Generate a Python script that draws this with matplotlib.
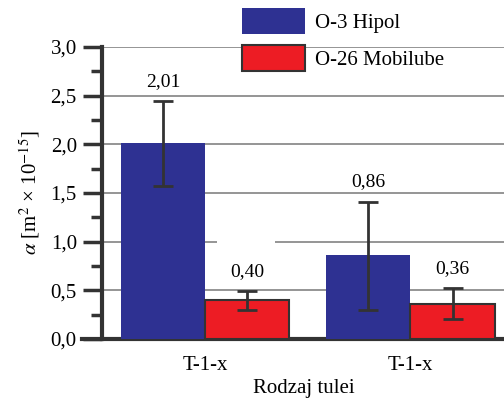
import numpy as np
import matplotlib
matplotlib.use('Agg')
import matplotlib.pyplot as plt
from matplotlib.ticker import MultipleLocator, FuncFormatter

plt.rcParams['font.family'] = ['Liberation Serif', 'DejaVu Serif']
plt.rcParams['mathtext.fontset'] = 'stix'

# dane
groups = ['T-1-x', 'T-1-x']
series = ['O-3 Hipol', 'O-26 Mobilube']
hipol = [2.01, 0.86]
hipol_lo = [1.57, 0.30]
hipol_hi = [2.44, 1.41]
mobil = [0.40, 0.36]
mobil_lo = [0.30, 0.20]
mobil_hi = [0.49, 0.52]

blue = '#2e3192'
red = '#ed1c24'
dark = '#333333'

fig = plt.figure(figsize=(5.04, 4.01), dpi=100)
ax = fig.add_axes([0.202, 0.155, 0.80, 0.728])

x = np.arange(len(groups))
w = 0.41

def errs(v, lo, hi):
    v = np.array(v)
    return [v - np.array(lo), np.array(hi) - v]

b1 = ax.bar(x - w / 2, hipol, w, color=blue, zorder=3, label=series[0])
b2 = ax.bar(x + w / 2, mobil, w, color=red, edgecolor=dark, linewidth=1.5,
            zorder=3, label=series[1])
ax.errorbar(x - w / 2, hipol, yerr=errs(hipol, hipol_lo, hipol_hi), fmt='none',
            ecolor=dark, elinewidth=2, capsize=7, capthick=2, zorder=4)
ax.errorbar(x + w / 2, mobil, yerr=errs(mobil, mobil_lo, mobil_hi), fmt='none',
            ecolor=dark, elinewidth=2, capsize=7, capthick=2, zorder=4)

# etykiety wartosci nad slupkami
for xs, vals, his in [(x - w / 2, hipol, hipol_hi), (x + w / 2, mobil, mobil_hi)]:
    for xi, v, h in zip(xs, vals, his):
        ax.annotate(('%.2f' % v).replace('.', ','), (xi, h), xytext=(0, 8),
                    textcoords='offset points', ha='center', va='bottom',
                    fontsize=14)

ax.set_xlim(-0.502, 1.46)
ax.set_ylim(0, 3.0)
ax.yaxis.set_major_locator(MultipleLocator(0.5))
ax.yaxis.set_minor_locator(MultipleLocator(0.25))
ax.yaxis.set_major_formatter(FuncFormatter(lambda v, p: ('%.1f' % v).replace('.', ',')))
ax.yaxis.grid(True, color='#8c8c8c', linewidth=1.3, zorder=0)
ax.set_axisbelow(True)
# przerwa w linii siatki na 1,0
ax.hlines(1.0, 0.06, 0.34, color='white', linewidth=3, zorder=1)

ax.set_xticks(x)
ax.set_xticklabels(groups)
ax.tick_params(axis='x', length=0, pad=12, labelsize=15)
ax.tick_params(axis='y', which='major', length=14, width=2.5, color=dark,
               labelsize=15, pad=4)
ax.tick_params(axis='y', which='minor', length=8, width=2.5, color=dark)

for s in ['top', 'right']:
    ax.spines[s].set_visible(False)
ax.spines['left'].set_linewidth(3)
ax.spines['left'].set_color(dark)
ax.spines['bottom'].set_linewidth(3)
ax.spines['bottom'].set_color(dark)
ax.spines['bottom'].set_bounds(-0.60, 1.46)
ax.spines['bottom'].set_clip_on(False)

ax.set_xlabel('Rodzaj tulei', fontsize=15, labelpad=3)
ax.set_ylabel(r'$\alpha$ [m$^2$ × 10$^{-15}$]', fontsize=15, labelpad=6)

fig.legend(handles=[b1, b2], labels=series, loc='upper left',
           bbox_to_anchor=(0.464, 1.0), frameon=False, fontsize=15,
           borderaxespad=0.2, borderpad=0.2,
           handlelength=3.0, handleheight=1.5, handletextpad=0.5,
           labelspacing=0.55)

fig.savefig('out.png', dpi=100)
